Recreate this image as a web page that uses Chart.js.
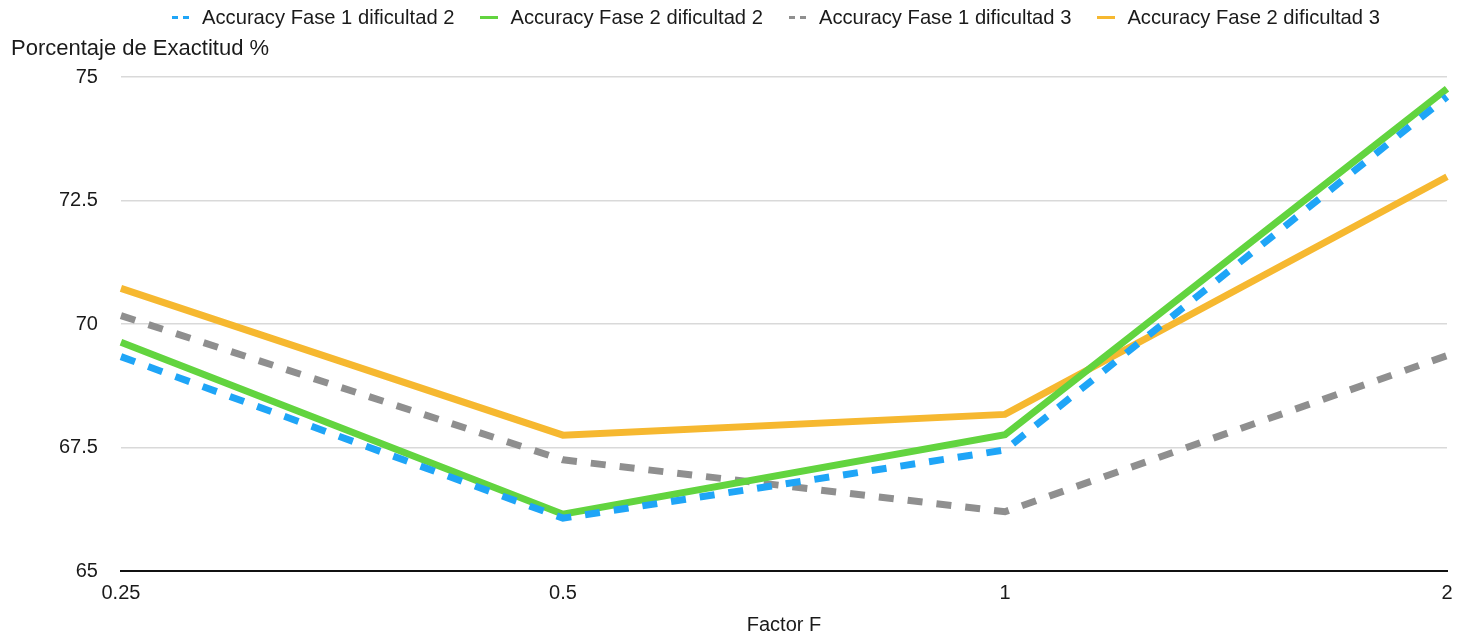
<!DOCTYPE html>
<html>
<head>
<meta charset="utf-8">
<script src="https://cdn.jsdelivr.net/npm/chart.js@4"></script>
<style>
	html, body { margin: 0; padding: 0; background: #fff; }
	#wrap { width: 1457px; height: 636px; position: relative; }
	#legend {
		position: absolute; left: 172px; top: 5px; height: 24px;
		display: flex; align-items: center;
		font: 20.2px 'Liberation Sans', Arial, Helvetica, sans-serif; color: #1a1a1a;
	}
	.item { display: flex; align-items: center; margin-right: 26px; white-space: nowrap; }
	.mark { width: 18px; height: 3px; margin-right: 12px; }
</style>
</head>
<body>
<div id="wrap"><canvas id="myChart"></canvas><div id="legend"></div></div>
<script>
"use strict";

// Data
const factorLabels = ["0.25", "0.5", "1", "2"];
const fase1Dif2 = [69.34, 66.07, 67.45, 74.6];
const fase2Dif2 = [69.63, 66.15, 67.76, 74.76];
const fase1Dif3 = [70.17, 67.25, 66.2, 69.36];
const fase2Dif3 = [70.72, 67.75, 68.17, 72.98];
const yTicks = [65, 67.5, 70, 72.5, 75];

const fontName = "'Liberation Sans', Arial, Helvetica, sans-serif";

// Draws the horizontal y axis title in the top-left corner
const yTitlePlugin = {
	id: "yTitle",
	afterDraw(chart) {
		const ctx = chart.ctx;
		ctx.save();
		ctx.font = "22px " + fontName;
		ctx.fillStyle = "#1a1a1a";
		ctx.textAlign = "left";
		ctx.textBaseline = "middle";
		ctx.fillText("Porcentaje de Exactitud %", 11, 48.5);
		ctx.restore();
	},
};

// Builds the legend above the chart from the datasets
const htmlLegendPlugin = {
	id: "htmlLegend",
	afterUpdate(chart) {
		const box = document.getElementById("legend");
		box.innerHTML = "";
		chart.data.datasets.forEach(function (ds) {
			const item = document.createElement("div");
			item.className = "item";
			const mark = document.createElement("span");
			mark.className = "mark";
			if (ds.borderDash.length) {
				mark.style.background = "repeating-linear-gradient(to right, " + ds.borderColor + " 0 6px, transparent 6px 11px)";
			} else {
				mark.style.background = ds.borderColor;
			}
			item.appendChild(mark);
			item.appendChild(document.createTextNode(ds.label));
			box.appendChild(item);
		});
	},
};

function makeDataset(label, data, color, dashed) {
	return {
		label: label,
		data: data,
		borderColor: color,
		backgroundColor: color,
		borderWidth: 7,
		borderDash: dashed ? [15, 14] : [],
		pointRadius: 0,
		pointHoverRadius: 0,
		tension: 0,
		fill: false,
	};
}

const ctx = document.getElementById("myChart");

new Chart(ctx, {
	type: "line",
	data: {
		labels: factorLabels,
		datasets: [
			makeDataset("Accuracy Fase 1 dificultad 2", fase1Dif2, "#1fa5f7", true),
			makeDataset("Accuracy Fase 2 dificultad 2", fase2Dif2, "#62d43f", false),
			makeDataset("Accuracy Fase 1 dificultad 3", fase1Dif3, "#8f8f8f", true),
			makeDataset("Accuracy Fase 2 dificultad 3", fase2Dif3, "#f6b830", false),
		],
	},
	options: {
		responsive: true,
		maintainAspectRatio: false,
		animation: false,
		layout: {
			padding: { top: 77, right: 10, left: 36, bottom: 0 },
		},
		plugins: {
			legend: { display: false },
			tooltip: { enabled: false },
		},
		scales: {
			x: {
				type: "category",
				offset: false,
				afterFit(axis) {
					axis.paddingRight = 0;
				},
				grid: { display: false, drawTicks: false },
				border: { display: true, color: "#111", width: 2 },
				ticks: {
					color: "#1a1a1a",
					padding: 10,
					maxRotation: 0,
					font: { size: 20, family: fontName },
				},
				title: {
					display: true,
					text: "Factor F",
					color: "#1a1a1a",
					padding: { top: 0, bottom: 0 },
					font: { size: 20, family: fontName, lineHeight: 1.05 },
				},
			},
			y: {
				min: 65,
				max: 75,
				afterBuildTicks(axis) {
					axis.ticks = yTicks.map(function (v) {
						return { value: v };
					});
				},
				grid: { color: "#d9d9d9", lineWidth: 1.5, drawTicks: false },
				border: { display: false },
				ticks: {
					color: "#1a1a1a",
					padding: 23,
					font: { size: 20, family: fontName },
				},
			},
		},
	},
	plugins: [yTitlePlugin, htmlLegendPlugin],
});
</script>
</body>
</html>
